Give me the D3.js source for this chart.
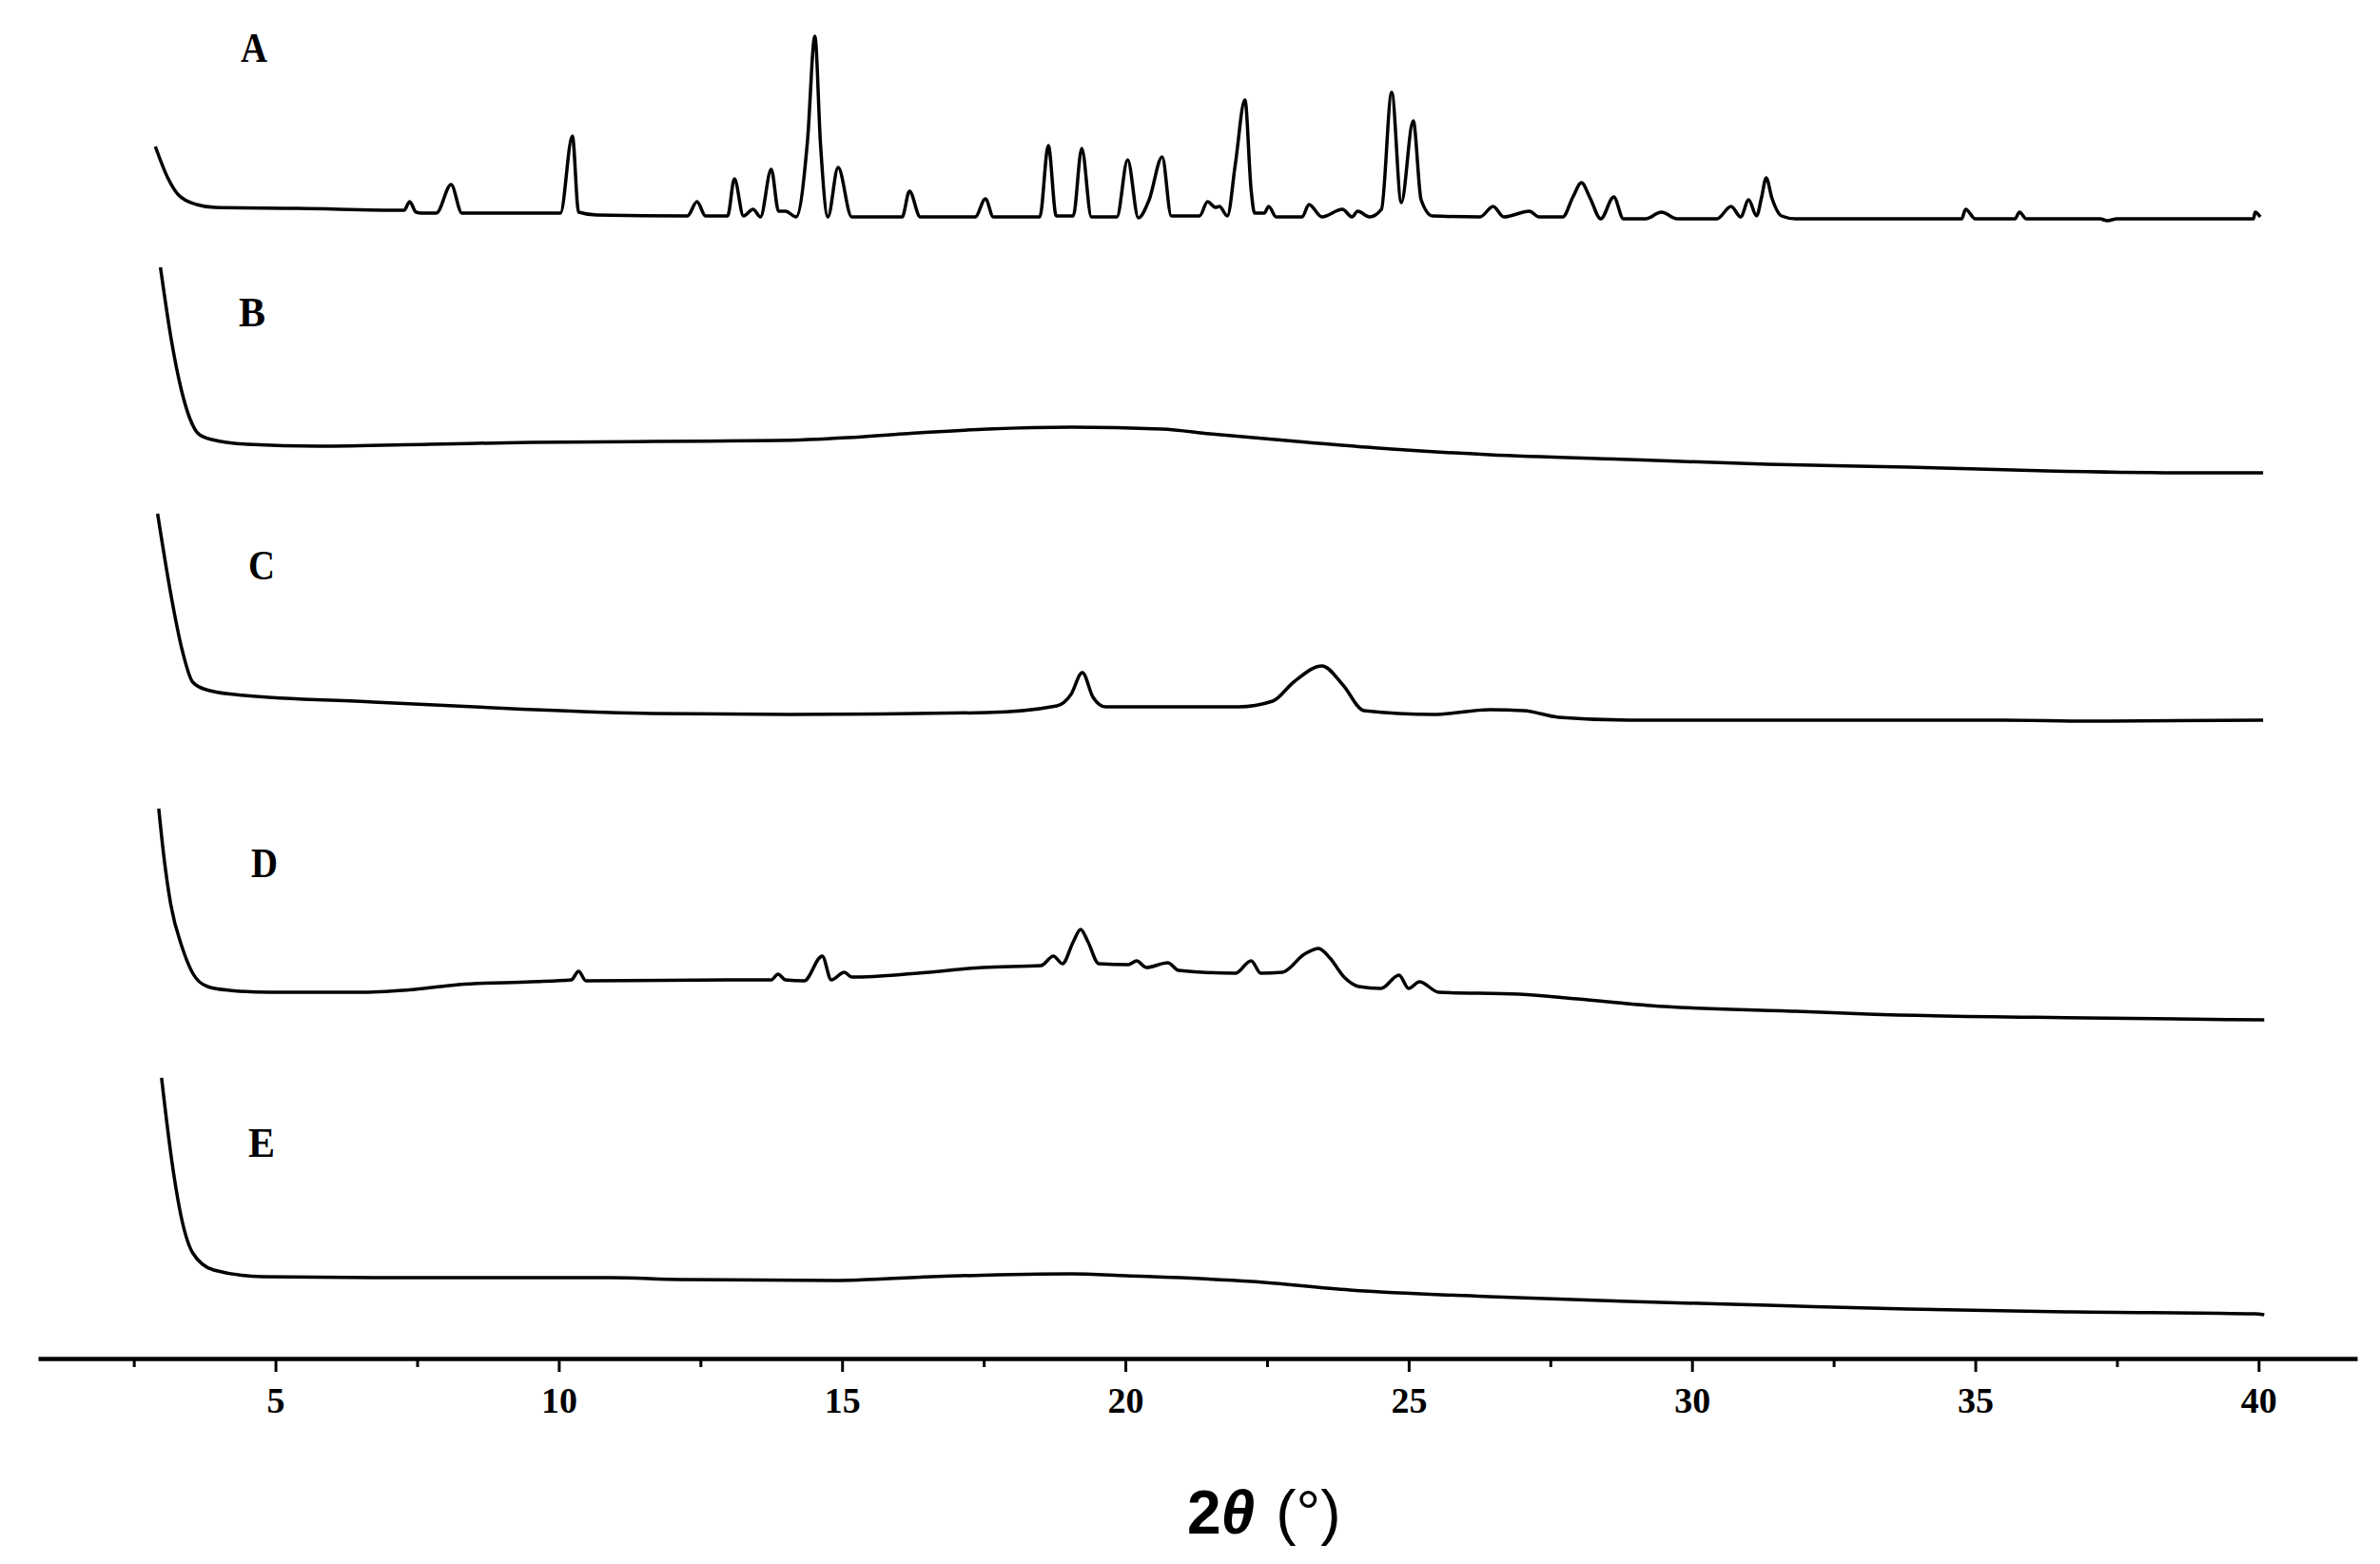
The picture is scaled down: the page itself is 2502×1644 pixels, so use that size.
<!DOCTYPE html>
<html>
<head>
<meta charset="utf-8">
<title>XRD patterns</title>
<script src="https://d3js.org/d3.v7.min.js"></script>
<style>
	body {margin:0; background:#fff;}
	.trace {fill:none; stroke:#000; stroke-width:3.5; stroke-linejoin:round;}
</style>
</head>
<body>
<div id="mydiv"></div>
<script>
// sample names
var labels = ["A", "B", "C", "D", "E"];

// tick values on the 2theta axis
var majorTicks = [5, 10, 15, 20, 25, 30, 35, 40];
var minorTicks = [2.5, 7.5, 12.5, 17.5, 22.5, 27.5, 32.5, 37.5];

// [2theta, intensity (a.u.)]
var traceA = [[2.88,86],[3.10,53],[3.29,35],[3.61,25],[3.93,22],[5.40,21],[7.27,19],[7.37,28],[7.48,17],[7.58,16],
	[7.84,16],[8.10,46],[8.29,16],[10.03,16],[10.24,97],[10.35,17],[10.67,14],[12.27,13],[12.44,28],[12.59,13],
	[12.98,13],[13.10,52],[13.26,13],[13.43,20],[13.56,12],[13.75,62],[13.88,18],[14.0,18],[14.19,12],[14.39,92],
	[14.52,202],[14.62,88],[14.75,12],[14.93,64],[15.17,12],[16.06,12],[16.19,39],[16.38,12],[17.35,12],[17.53,31],
	[17.67,12],[18.49,12],[18.64,87],[18.78,13],[19.08,13],[19.23,84],[19.40,12],[19.85,12],[20.04,72],[20.23,11],
	[20.42,30],[20.65,75],[20.81,13],[21.31,13],[21.45,28],[21.59,22],[21.66,23],[21.80,13],[21.94,67],[22.11,135],
	[22.22,40],[22.28,16],[22.45,16],[22.53,23],[22.66,12],[23.12,12],[23.24,25],[23.47,12],[23.83,20],[24.0,12],
	[24.10,18],[24.31,12],[24.52,20],[24.70,143],[24.87,27],[25.08,113],[25.22,30],[25.42,13],[26.26,12],[26.49,23],
	[26.68,12],[27.13,18],[27.30,12],[27.72,12],[27.90,33],[28.05,48],[28.20,32],[28.39,10],[28.62,33],[28.79,10],
	[29.18,10],[29.46,17],[29.74,10],[30.44,10],[30.69,23],[30.86,12],[31.0,30],[31.14,13],[31.23,33],[31.31,53],
	[31.41,32],[31.58,13],[31.83,10],[34.76,10],[34.83,20],[35.0,10],[35.70,10],[35.78,17],[35.90,10],[37.20,10],
	[37.33,8],[37.50,10],[39.91,10],[39.94,17],[40.03,12]];

var traceB = [[2.97,224],[3.17,145],[3.34,95],[3.49,65],[3.66,48],[4.03,41],[4.51,38],[5.75,36],[7.72,38],[9.50,40],
	[11.66,41],[13.87,42],[15.10,45],[16.09,49],[17.57,54],[19.04,56],[20.64,54],[21.49,49],[23.22,40],
	[24.70,33],[26.43,27],[28.88,22],[31.34,17],[33.81,14],[36.26,10],[38.72,8],[40.08,8]];

var traceC = [[2.92,225],[3.17,135],[3.34,85],[3.54,48],[3.78,40],[4.28,35],[6.73,27],[9.19,20],[11.66,15],[14.11,14],
	[17.56,16],[18.79,23],[19.04,35],[19.24,58],[19.43,32],[19.65,22],[21.99,22],[22.60,28],[22.97,48],[23.47,65],
	[23.84,45],[24.21,18],[25.44,14],[26.43,19],[27.03,18],[27.65,11],[28.88,8],[35.50,8],[37.00,7],[40.08,8]];

var traceD = [[2.94,230],[3.03,180],[3.15,130],[3.36,83],[3.54,57],[3.80,43],[4.19,39],[4.89,37],[6.56,37],[7.46,40],
	[8.23,45],[9.51,48],[10.22,50],[10.35,59],[10.48,49],[13.11,50],[13.75,50],[13.87,56],[14.0,50],[14.33,49],[14.65,75],[14.81,50],
	[15.04,58],[15.17,53],[16.33,57],[17.48,63],[18.51,65],[18.73,75],[18.89,67],[19.08,90],[19.21,103],[19.34,90],
	[19.53,67],[20.05,66],[20.20,70],[20.37,63],[20.75,68],[20.94,60],[21.94,57],[22.22,70],[22.39,57],[22.77,58],
	[23.16,77],[23.41,83],[23.61,73],[23.86,53],[24.12,43],[24.51,41],[24.83,55],[25.0,41],[25.19,48],[25.53,37],
	[26.95,35],[27.98,30],[29.26,23],[31.83,17],[33.11,14],[36.96,10],[40.10,8]];

var traceE = [[2.99,257],[3.17,170],[3.34,110],[3.54,73],[3.91,55],[4.77,48],[6.73,47],[9.00,47],[10.92,47],[12.15,45],
	[14.85,44],[16.58,48],[19.04,51],[20.02,49],[22.23,43],[23.96,34],[26.43,27],[28.88,22],[31.34,18],[33.81,14],
	[36.76,11],[39.94,9],[40.10,8]];

var traces = [traceA, traceB, traceC, traceD, traceE];

// layout
var W = 2502, H = 1644;
var axisY = 1428;
var baseY = [240, 505, 765, 1080, 1390];          // zero-intensity line of each pattern
var labelPos = [[253,65],[251,343],[261,609],[264,922],[261,1216]];

var svg = d3.select("#mydiv").append("svg")
	.attr("width", W)
	.attr("height", H)
	.attr("font-family", "Liberation Serif, Times New Roman, serif");

var x = d3.scaleLinear().domain([0.81, 41.74]).range([40, 2478]);

traces.forEach(function(data, i) {
	var y = d3.scaleLinear().domain([0, 300]).range([baseY[i], baseY[i] - 300]);
	var line = d3.line()
		.x(function(d) { return x(d[0]); })
		.y(function(d) { return y(d[1]); })
		.curve(d3.curveMonotoneX);
	svg.append("path")
		.datum(data)
		.attr("class", "trace")
		.attr("d", line);
});

svg.selectAll("text.lab").data(labels).enter()
	.append("text")
	.attr("class", "lab")
	.attr("x", function(d, i) { return labelPos[i][0]; })
	.attr("y", function(d, i) { return labelPos[i][1]; })
	.attr("font-size", 44)
	.attr("font-weight", "bold")
	.attr("textLength", 28)
	.attr("lengthAdjust", "spacingAndGlyphs")
	.text(function(d) { return d; });

// minor ticks
svg.append("g")
	.attr("transform", "translate(0," + axisY + ")")
	.call(d3.axisBottom(x).tickValues(minorTicks).tickSize(9).tickSizeOuter(0).tickFormat(""))
	.call(function(g) { g.select(".domain").remove(); })
	.selectAll("line").attr("stroke-width", 3);

// major ticks + labels
var ax = svg.append("g")
	.attr("transform", "translate(0," + axisY + ")")
	.call(d3.axisBottom(x).tickValues(majorTicks).tickSize(14).tickSizeOuter(0).tickPadding(16));
ax.select(".domain").attr("stroke-width", 4.5);
ax.selectAll(".tick line").attr("stroke-width", 3);
ax.selectAll(".tick text")
	.attr("font-family", "Liberation Serif, Times New Roman, serif")
	.attr("font-size", 38)
	.attr("font-weight", "bold")
	.attr("fill", "#000");

// axis title
var title = svg.append("text")
	.attr("x", 1248)
	.attr("y", 1612)
	.attr("font-family", "Liberation Sans, Arial, sans-serif")
	.attr("font-size", 64);
title.append("tspan").attr("font-weight", "bold").text("2");
title.append("tspan").attr("font-weight", "bold").attr("font-style", "italic").text("θ");
title.append("tspan").attr("dx", 22).text("(°)");
</script>
</body>
</html>
